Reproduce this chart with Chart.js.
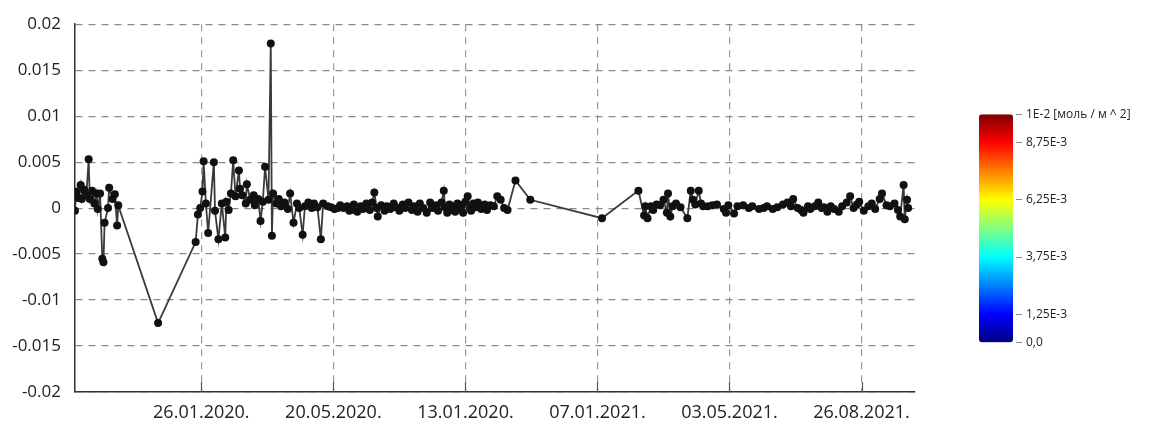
<!DOCTYPE html>
<html>
<head>
<meta charset="utf-8">
<script src="https://cdn.jsdelivr.net/npm/chart.js@4/dist/chart.umd.min.js"></script>
<style>
  html, body { margin: 0; padding: 0; background: #fff; width: 1155px; height: 430px; overflow: hidden; }
  #main { position: absolute; left: 0; top: 0; width: 935px; height: 430px; }
  #bar { position: absolute; left: 976px; top: 103px; width: 179px; height: 251px; }
</style>
</head>
<body>
<div id="main"><canvas id="c1"></canvas></div>
<div id="bar"><canvas id="c2"></canvas></div>
<script>
// Day offsets relative to the first tick date (26.01.2020)
const days = [
  -111,-110,-108,-106,-105,-103,-101,-99,-98,-96,-94,-92,-91,-89,-87,-86,-85,-82,-81,-78,-76,-74,-73,-38,-5,-3,
  -1,1,2,4,6,11,12,15,18,21,22,24,26,28,30,33,34,36,39,40,43,46,47,50,52,54,56,59,61,62,63,66,68,70,73,76,78,81,84,86,89,91,94,97,99,102,105,107,111,
  114,117,120,122,125,128,130,132,134,137,140,142,145,148,150,152,154,155,158,161,163,166,169,171,174,177,179,182,185,187,190,192,195,198,201,203,206,208,211,213,214,216,218,220,222,223,225,227,229,230,232,234,236,237,239,241,243,246,249,251,254,257,260,263,266,269,276,289,352,384,
  389,390,392,395,397,400,403,406,409,410,412,414,417,421,427,430,432,434,437,439,441,445,449,453,459,461,463,468,471,476,481,484,490,494,497,502,506,511,515,518,520,524,527,529,533,535,539,542,545,547,550,553,556,560,563,567,570,573,576,578,582,586,589,592,596,598,602,605,609,612,614,617,618,620,621
];
const values = [
  -0.0003,0.0018,0.0011,0.0025,0.0010,0.0020,0.0014,0.0053,0.0010,0.0019,0.0005,0.0016,-0.0001,0.0016,-0.0055,-0.0059,-0.0016,0.0000,0.0022,0.0010,0.0015,-0.0019,0.0003,-0.0125,-0.0037,-0.0007,
  0.0000,0.0018,0.0051,0.0005,-0.0027,0.0050,-0.0003,-0.0034,0.0005,-0.0032,0.0007,-0.0002,0.0016,0.0052,0.0013,0.0041,0.0021,0.0014,0.0005,0.0026,0.0009,0.0014,0.0003,0.0010,-0.0014,0.0007,0.0045,0.0009,0.0179,-0.0030,0.0016,0.0005,0.0010,0.0002,0.0006,-0.0001,0.0016,-0.0016,0.0005,0.0000,-0.0029,0.0002,0.0006,0.0000,0.0005,0.0001,-0.0034,0.0005,0.0002,
  0.0001,-0.0001,0.0000,0.0003,0.0000,0.0002,-0.0003,-0.0002,0.0004,-0.0004,0.0002,-0.0001,0.0005,-0.0002,0.0006,0.0017,0.0000,-0.0009,0.0003,-0.0003,0.0002,-0.0001,0.0005,0.0001,-0.0003,0.0004,0.0000,0.0006,-0.0002,0.0002,-0.0004,0.0005,0.0000,-0.0005,0.0006,0.0000,0.0003,-0.0003,0.0006,0.0019,0.0001,-0.0005,0.0004,-0.0002,0.0002,-0.0004,0.0005,-0.0001,0.0003,-0.0005,0.0007,0.0013,0.0000,-0.0003,0.0005,0.0001,0.0006,-0.0001,0.0004,-0.0002,0.0003,0.0002,0.0013,0.0009,0.0000,-0.0002,0.0030,0.0009,-0.0011,0.0019,
  -0.0008,0.0002,-0.0011,0.0002,-0.0002,0.0004,0.0003,0.0009,-0.0005,0.0016,-0.0009,0.0002,0.0005,0.0001,-0.0011,0.0019,0.0009,0.0004,0.0019,0.0005,0.0002,0.0002,0.0003,0.0004,-0.0001,-0.0005,0.0003,-0.0006,0.0002,0.0003,0.0000,0.0002,-0.0001,0.0000,0.0002,-0.0001,0.0001,0.0004,0.0006,0.0002,0.0010,0.0000,-0.0002,-0.0005,0.0002,-0.0001,0.0002,0.0006,0.0000,0.0001,-0.0004,0.0002,-0.0001,-0.0004,0.0002,0.0006,0.0013,0.0000,0.0004,0.0007,-0.0003,0.0002,0.0005,-0.0001,0.0010,0.0016,0.0003,0.0002,0.0005,-0.0002,-0.0009,0.0025,-0.0012,0.0009,0.0000
];
const tickDays = [0, 116, 232, 348, 464, 580];
const tickLabels = ['26.01.2020.', '20.05.2020.', '13.01.2020.', '07.01.2021.', '03.05.2021.', '26.08.2021.'];
const yTicks = [-0.02, -0.015, -0.01, -0.005, 0, 0.005, 0.01, 0.015, 0.02];

const cbRange = [0, 0.01];
const cbTicks = [0, 0.00125, 0.00375, 0.00625, 0.00875, 0.01];
const cbLabels = ['0,0', '1,25E-3', '3,75E-3', '6,25E-3', '8,75E-3', '1E-2 [моль / м ^ 2]'];

const points = days.map((d, i) => ({ x: d, y: values[i] }));

// small solid tick marks rising from the bottom axis at each date tick
const axisTicks = {
  id: 'axisTicks',
  afterDraw(chart) {
    const { ctx, chartArea, scales } = chart;
    ctx.save();
    ctx.strokeStyle = '#555';
    ctx.lineWidth = 1.2;
    tickDays.forEach(v => {
      const x = Math.round(scales.x.getPixelForValue(v)) + 0.5;
      ctx.beginPath();
      ctx.moveTo(x, chartArea.bottom);
      ctx.lineTo(x, chartArea.bottom - 10);
      ctx.stroke();
    });
    ctx.restore();
  }
};

new Chart(document.getElementById('c1'), {
  type: 'line',
  data: {
    datasets: [{
      data: points,
      borderColor: '#3a3a3a',
      borderWidth: 1.8,
      pointRadius: 4,
      pointBackgroundColor: '#111',
      pointBorderColor: '#111',
      pointBorderWidth: 0,
      tension: 0,
      fill: false
    }]
  },
  plugins: [axisTicks],
  options: {
    responsive: true,
    maintainAspectRatio: false,
    animation: false,
    events: [],
    layout: { padding: { top: 18, right: 20, left: 0, bottom: 0 } },
    plugins: { legend: { display: false }, tooltip: { enabled: false } },
    scales: {
      x: {
        type: 'linear',
        min: -111,
        max: 627,
        afterBuildTicks: (s) => { s.ticks = tickDays.map(v => ({ value: v })); },
        afterFit: (s) => { s.height = 38; },
        ticks: {
          autoSkip: false,
          maxRotation: 0,
          padding: 10,
          color: '#222',
          font: { family: "'Open Sans', sans-serif", size: 18 },
          callback: (v) => { const i = tickDays.indexOf(v); return i >= 0 ? tickLabels[i] : ''; }
        },
        grid: { display: true, drawTicks: false, color: '#9a9a9a', lineWidth: 1.2 },
        border: { display: true, color: '#333', width: 1.5, dash: [7, 6] }
      },
      y: {
        min: -0.02,
        max: 0.02,
        afterBuildTicks: (s) => { s.ticks = yTicks.map(v => ({ value: v })); },
        afterFit: (s) => { s.width = 75; },
        ticks: {
          padding: 14,
          color: '#222',
          font: { family: "'Open Sans', sans-serif", size: 17 },
          callback: (v) => String(parseFloat(Number(v).toFixed(3)))
        },
        grid: { display: true, drawTicks: false, color: '#8a8a8a', lineWidth: 1.2 },
        border: { display: true, color: '#333', width: 1.5, dash: [7, 6] }
      }
    }
  }
});

function jet(ctx) {
  const ca = ctx.chart.chartArea;
  if (!ca) return '#00f';
  const g = ctx.chart.ctx.createLinearGradient(0, ca.bottom, 0, ca.top);
  g.addColorStop(0, '#00007f');
  g.addColorStop(0.125, '#0000ff');
  g.addColorStop(0.375, '#00ffff');
  g.addColorStop(0.625, '#ffff00');
  g.addColorStop(0.875, '#ff0000');
  g.addColorStop(1, '#7f0000');
  return g;
}

new Chart(document.getElementById('c2'), {
  type: 'bar',
  data: {
    labels: [''],
    datasets: [{
      data: [cbRange],
      backgroundColor: jet,
      borderWidth: 0,
      borderRadius: 3,
      borderSkipped: false,
      barPercentage: 0.85,
      categoryPercentage: 1
    }]
  },
  options: {
    responsive: true,
    maintainAspectRatio: false,
    animation: false,
    events: [],
    layout: { padding: { top: 10, bottom: 10, left: 0, right: 0 } },
    plugins: { legend: { display: false }, tooltip: { enabled: false } },
    scales: {
      x: { display: false },
      y: {
        position: 'right',
        min: cbRange[0],
        max: cbRange[1],
        afterBuildTicks: (s) => { s.ticks = cbTicks.map(v => ({ value: v })); },
        afterFit: (s) => { s.width = 139; },
        ticks: {
          padding: 4,
          color: '#222',
          font: { family: "'Open Sans', sans-serif", size: 12 },
          callback: (v) => { const i = cbTicks.findIndex(t => Math.abs(t - v) < 1e-9); return i >= 0 ? cbLabels[i] : ''; }
        },
        grid: { display: true, drawOnChartArea: false, drawTicks: true, tickLength: 6, color: '#888' },
        border: { display: false }
      }
    }
  }
});
</script>
</body>
</html>
